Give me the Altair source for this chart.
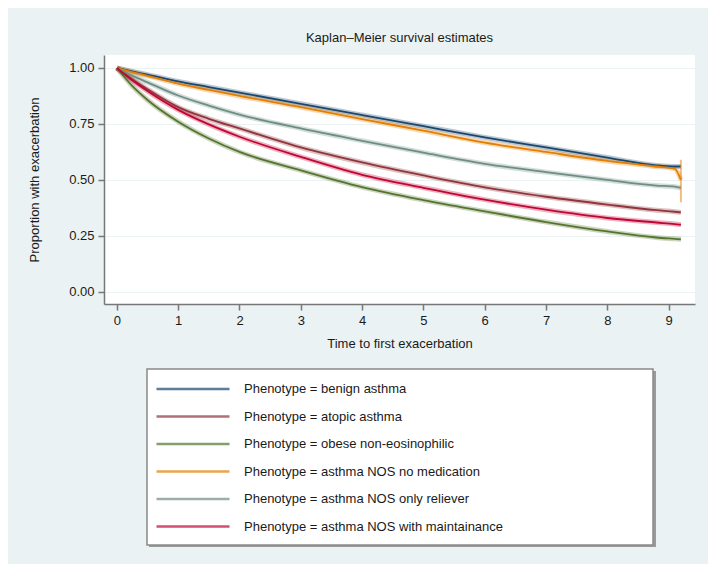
import altair as alt
import pandas as pd

phenotypes = [
    "benign asthma",
    "atopic asthma",
    "obese non-eosinophilic",
    "asthma NOS no medication",
    "asthma NOS only reliever",
    "asthma NOS with maintainance",
]
colors = ["#1a476f", "#90353b", "#55752f", "#e37e00", "#6e8e84", "#c10534"]

times = [0, 0.25, 0.5, 1, 1.5, 2, 3, 4, 5, 6, 7, 8, 8.8, 9.1, 9.2]
benign = [1, 0.985, 0.97, 0.94, 0.915, 0.89, 0.84, 0.79, 0.74, 0.69, 0.645, 0.60, 0.565, 0.56, 0.56]
atopic = [1, 0.95, 0.905, 0.825, 0.773, 0.73, 0.645, 0.578, 0.52, 0.467, 0.425, 0.39, 0.365, 0.358, 0.355]
obese = [1, 0.92, 0.857, 0.76, 0.685, 0.625, 0.543, 0.468, 0.41, 0.36, 0.312, 0.27, 0.243, 0.237, 0.235]
nos_no_med = [1, 0.982, 0.965, 0.93, 0.902, 0.875, 0.825, 0.772, 0.72, 0.667, 0.625, 0.585, 0.56, 0.55, 0.50]
nos_reliever = [1, 0.966, 0.936, 0.877, 0.832, 0.792, 0.73, 0.675, 0.622, 0.572, 0.535, 0.50, 0.475, 0.47, 0.465]
nos_maint = [1, 0.945, 0.897, 0.813, 0.748, 0.693, 0.603, 0.523, 0.465, 0.412, 0.367, 0.33, 0.31, 0.303, 0.30]

# confidence interval at the end of the "no medication" curve
tail_t = [9.2]
tail_lo = [0.40]
tail_hi = [0.59]

series = [benign, atopic, obese, nos_no_med, nos_reliever, nos_maint]
rows = []
for name, vals in zip(phenotypes, series):
    for t, v in zip(times, vals):
        rows.append({"time": t, "surv": v, "Phenotype": name})
df = pd.DataFrame(rows)

font = "Liberation Sans"
xscale = alt.Scale(domain=[-0.21, 9.43], nice=False, zero=False)
yscale = alt.Scale(domain=[-0.054, 1.058], nice=False, zero=False)

color = alt.Color(
    "Phenotype:N",
    scale=alt.Scale(domain=phenotypes, range=colors),
    sort=phenotypes,
    legend=alt.Legend(
        orient="none",
        legendX=51,
        legendY=327,
        title=None,
        symbolType="stroke",
        symbolSize=5329,
        symbolStrokeWidth=2.5,
        symbolOpacity=0.7,
        clipHeight=14,
        rowPadding=13.5,
        labelFontSize=13,
        labelFont=font,
        labelColor="#1a1a1a",
        labelOffset=13,
        labelLimit=400,
        padding=0,
        zindex=2,
        labelExpr="'Phenotype = ' + datum.label",
    ),
)

xenc = alt.X(
    "time:Q",
    scale=xscale,
    axis=alt.Axis(
        values=list(range(10)),
        format="d",
        title="Time to first exacerbation",
        grid=False,
        titlePadding=10,
    ),
)
yenc = alt.Y(
    "surv:Q",
    scale=yscale,
    axis=alt.Axis(
        values=[0, 0.25, 0.5, 0.75, 1.0],
        format=".2f",
        title="Proportion with exacerbation",
        grid=True,
        titlePadding=27,
    ),
)

one = pd.DataFrame({"a": [0]})
shadow = alt.Chart(one).mark_rect(fill="#9a9a9a").encode(
    x=alt.value(45), x2=alt.value(552), y=alt.value(316), y2=alt.value(492)
)
box = alt.Chart(one).mark_rect(fill="white", stroke="#8a8a8a", strokeWidth=1.5).encode(
    x=alt.value(43), x2=alt.value(549), y=alt.value(314), y2=alt.value(490)
)

band = alt.Chart(df).mark_line(strokeWidth=5, opacity=0.3, interpolate="monotone").encode(
    x=xenc, y=yenc, color=color, detail="Phenotype:N"
)
core = alt.Chart(df).mark_line(strokeWidth=1.8, interpolate="monotone").encode(
    x="time:Q", y="surv:Q", color=alt.Color("Phenotype:N"), detail="Phenotype:N"
)

tail = alt.Chart(pd.DataFrame({"time": tail_t, "lo": tail_lo, "hi": tail_hi})).mark_rule(
    color="#e37e00", opacity=0.5, strokeWidth=2
).encode(x="time:Q", y="lo:Q", y2="hi:Q")

chart = (
    alt.layer(shadow, box, band, core, tail)
    .properties(
        width=591,
        height=249,
        autosize=alt.AutoSizeParams(type="none"),
        padding={"left": 96, "top": 47, "right": 13, "bottom": 260},
        background="#eaf2f3",
        title=alt.TitleParams(
            "Kaplan–Meier survival estimates",
            fontSize=13,
            fontWeight="normal",
            font=font,
            color="#1a1a1a",
            offset=10,
            anchor="middle",
        ),
    )
    .configure_view(fill="white", stroke=None)
    .configure_axis(
        labelFont=font,
        titleFont=font,
        labelFontSize=13,
        titleFontSize=13,
        titleFontWeight="normal",
        labelColor="#1a1a1a",
        titleColor="#1a1a1a",
        domainColor="#777777",
        domainWidth=1.5,
        tickColor="#777777",
        tickWidth=1.5,
        tickSize=6,
        labelPadding=4,
        gridColor="#eaf2f3",
        gridWidth=1,
    )
)

chart.save("out.html", embed_options={"renderer": "svg", "actions": False})
